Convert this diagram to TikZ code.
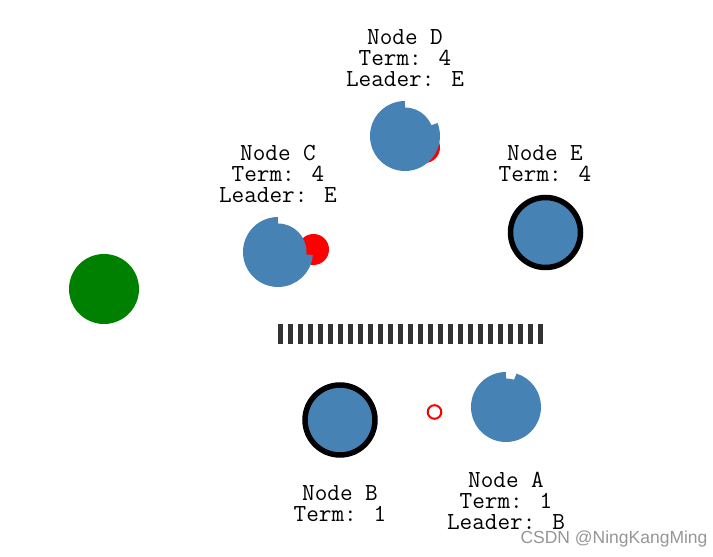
\documentclass[tikz,border=0pt]{standalone}
\usepackage{fontspec}
\newfontfamily\markfont{Liberation Sans}
\definecolor{steelblue}{RGB}{70,130,180}
\definecolor{peergreen}{RGB}{0,128,0}
\definecolor{bargray}{RGB}{51,51,51}
\definecolor{markgray}{RGB}{150,150,150}
\tikzset{
  server/.style={circle, fill=steelblue, inner sep=0pt, minimum size=70pt},
  follower/.style={circle, fill=steelblue, inner sep=0pt, minimum size=57pt},
  leader/.style={server, draw=black, line width=5.5pt},
  timer/.style={steelblue, line width=7pt},
  msg/.style={circle, fill=red, inner sep=0pt, minimum size=31pt},
  reply/.style={circle, draw=red, line width=2pt, inner sep=0pt, minimum size=13.6pt},
  info/.style={font=\ttfamily\fontsize{24.5}{21}\selectfont, align=center, anchor=base, inner sep=0pt},
}
\begin{document}
\begin{tikzpicture}[x=1pt, y=1pt]
  \useasboundingbox (0,0) rectangle (713,557);
  % messages in flight (behind the servers)
  \node[msg] (msgD) at (424.5,409.5) {};
  \node[msg] (msgC) at (313.5,307.5) {};
  \node[reply] (msgA) at (434.5,145) {};
  % servers
  \node[server, fill=peergreen] (peer) at (104,268) {};
  \node[follower] (nodeD) at (405,421) {};
  \node[follower] (nodeC) at (278,305) {};
  \node[follower] (nodeA) at (506,150) {};
  \node[leader] (nodeE) at (545.5,324.5) {};
  \node[leader] (nodeB) at (340,137) {};
  % election timers
  \draw[timer] (nodeD.center) ++(90:31.5) arc[start angle=90, end angle=382, radius=31.5];
  \draw[timer] (nodeC.center) ++(90:31.5) arc[start angle=90, end angle=355, radius=31.5];
  \draw[timer] (nodeA.center) ++(90:31.5) arc[start angle=90, end angle=433, radius=31.5];
  % log
  \foreach \i in {0,...,26}
    \fill[bargray] (278+10*\i,212.7) rectangle ++(5.3,20);
  % labels (anchored at the last line)
  \node[info] (infoD) at (405,470) {Node D\\Term: 4\\Leader: E};
  \node[info] (infoC) at (278,354) {Node C\\Term: 4\\Leader: E};
  \node[info] (infoE) at (545,375) {Node E\\Term: 4};
  \node[info] (infoB) at (340,35) {Node B\\Term: 1};
  \node[info] (infoA) at (506,27) {Node A\\Term: 1\\Leader: B};
  \node[font=\markfont\fontsize{17.5}{20}\selectfont, text=markgray, anchor=base, inner sep=0pt] (mark) at (614,13.7) {CSDN @NingKangMing};
\end{tikzpicture}
\end{document}
